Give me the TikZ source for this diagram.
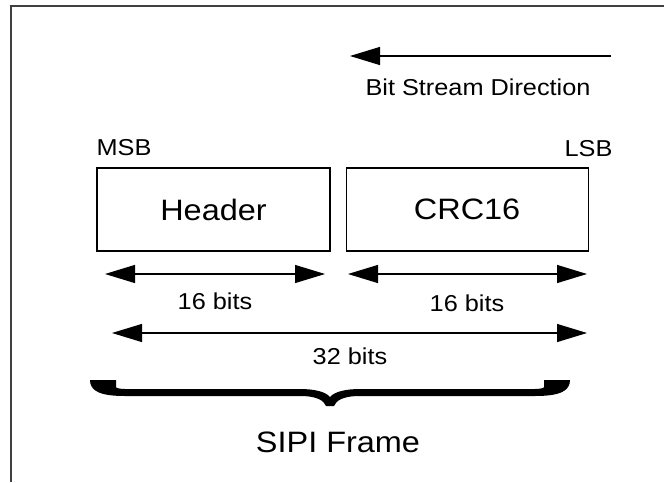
\documentclass[tikz,border=0pt]{standalone}
\usepackage{graphicx}
\usepackage{fontspec}
\setmainfont{Liberation Sans}
\usetikzlibrary{positioning,arrows.meta}

% text is a little wider than Arial in the drawing
\newcommand{\wtxt}[1]{\scalebox{1.1}[1]{#1}}

\begin{document}
\begin{tikzpicture}[
	x=1pt, y=-1pt,
	>={Triangle[length=30pt,width=18pt]},
	field/.style={
		rectangle,
		draw,
		line width=1.1pt,
		inner sep=0pt,
		minimum height=83pt,
		font=\fontsize{29.5}{32}\selectfont
	},
	small/.style={inner sep=0pt, font=\fontsize{23}{26}\selectfont},
	big/.style={inner sep=0pt, font=\fontsize{29.5}{32}\selectfont},
	span/.style={<->, line width=1.2pt}
	]
	\useasboundingbox (0,0) rectangle (664,482);
	
	% frame
	\draw[line width=2pt, black!75] (11,482) -- (11,6) -- (664,6);
	
	% bit stream direction
	\coordinate (dirA) at (611,56);
	\coordinate (dirB) at (350,56);
	\draw[->, line width=1.2pt] (dirA) -- (dirB);
	\node[small] (dir) at (478,87) {\wtxt{Bit Stream Direction}};
	
	% fields
	\node[field, minimum width=233pt] (header) at (213.5,209.5) {\wtxt{Header}};
	\node[field, minimum width=242pt] (crc) [right=15pt of header] {\wtxt{CRC16}};
	\node[small] (msb) [above=12pt of header.north west, anchor=south west] {\wtxt{MSB}};
	\node[small] (lsb) [above=11pt of crc.north east, anchor=south east, xshift=24pt] {\wtxt{LSB}};
	
	% widths
	\coordinate (h1) at (105,274);
	\coordinate (h2) at (325,274);
	\coordinate (c1) at (348,274);
	\coordinate (c2) at (587,274);
	\coordinate (t1) at (112,333);
	\coordinate (t2) at (587,333);
	\draw[span] (h1) -- (h2);
	\draw[span] (c1) -- (c2);
	\draw[span] (t1) -- (t2);
	\node[small] (hbits) at (215,301) {\wtxt{16 bits}};
	\node[small] (cbits) at (467,303) {\wtxt{16 bits}};
	\node[small] (tbits) at (350,356) {\wtxt{32 bits}};
	
	% brace
	\fill (90,380) .. controls (90,391) and (100,396) .. (125,396)
		-- (300,396) .. controls (318,396) and (324,401) .. (326,406)
		-- (334,406) .. controls (336,401) and (342,396) .. (360,396)
		-- (535,396) .. controls (560,396) and (570,391) .. (570,380)
		-- (544,380) -- (544,387) .. controls (544,388) and (540,389) .. (535,389)
		-- (360,389) .. controls (345,389) and (334,392) .. (330,397)
		.. controls (326,392) and (315,389) .. (300,389)
		-- (125,389) .. controls (120,389) and (116,388) .. (116,387)
		-- (116,380) -- cycle;
	\node[big] (frame) at (338,442) {\wtxt{SIPI Frame}};
	
\end{tikzpicture}
\end{document}
